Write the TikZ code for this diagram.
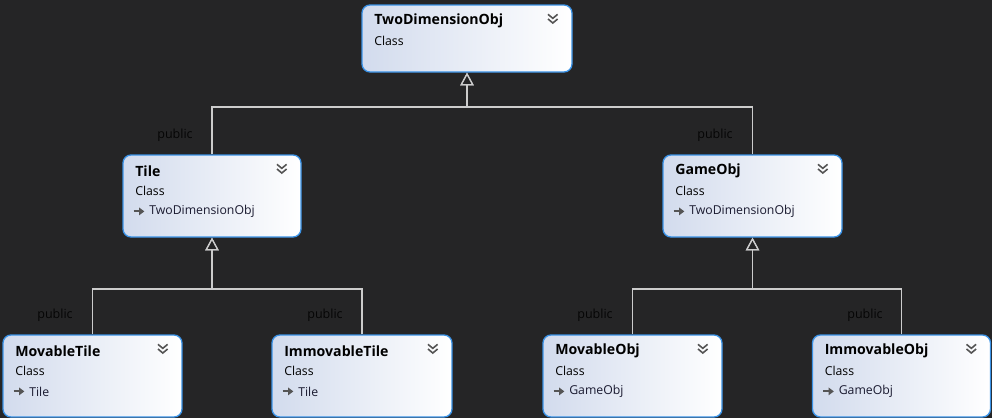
\documentclass[tikz,border=0pt]{standalone}
\usepackage{fontspec}
\setmainfont{Open Sans}
\usetikzlibrary{arrows.meta}
\definecolor{bgc}{HTML}{252526}
\definecolor{boxl}{HTML}{D2DBED}
\definecolor{boxr}{HTML}{FFFFFF}
\definecolor{boxb}{HTML}{3A92E6}
\definecolor{linec}{HTML}{CCCCCC}
\definecolor{iconc}{HTML}{555555}
\definecolor{pubc}{HTML}{050505}
\definecolor{partxt}{HTML}{1A1A30}
\tikzset{
  umlbox/.style={draw=boxb, line width=1pt, rounded corners=6pt, left color=boxl, right color=boxr, shading angle=90, inner sep=0pt},
  titletxt/.style={anchor=west, inner sep=0pt, font=\fontsize{10.6}{12}\selectfont\bfseries, text=black},
  subtxt/.style={anchor=west, inner sep=0pt, font=\fontsize{9.2}{10}\selectfont, text=black},
  partxtst/.style={subtxt, text=partxt},
  pubtxt/.style={inner sep=0pt, font=\fontsize{9.4}{10}\selectfont, text=pubc},
  conn/.style={draw=linec, line width=0.9pt},
  inh/.style={conn, -{Triangle[open, width=10pt, length=9.5pt, line width=0.9pt]}},
  chev/.style={draw=iconc, line width=1.2pt},
}
% #1 name, #2 cx, #3 cy, #4 w, #5 h, #6 title, #7 parent (empty for none)
\newcommand{\umlclass}[7]{%
  \node[umlbox, minimum width=#4*0.75pt, minimum height=#5*0.75pt] (#1) at (#2,#3) {};
  \node[titletxt] (#1-t) at ([xshift=9.5pt, yshift=-12.5pt]#1.north west) {#6};
  \node[subtxt] (#1-c) at ([xshift=9.5pt, yshift=-27.5pt]#1.north west) {Class};
  \draw[chev] ([xshift=-18.5pt, yshift=-7.5pt]#1.north east) -- ++(3.6pt,-3pt) -- ++(3.6pt,3pt);
  \draw[chev] ([xshift=-18.5pt, yshift=-11pt]#1.north east) -- ++(3.6pt,-3pt) -- ++(3.6pt,3pt);
  \ifx\relax#7\relax\else
    \draw[iconc, line width=1.4pt] ([xshift=8.5pt, yshift=-42.8pt]#1.north west) -- ++(5pt,0);
    \fill[iconc] ([xshift=12.5pt, yshift=-39.8pt]#1.north west) -- ++(4pt,-3pt) -- ++(-4pt,-3pt) -- cycle;
    \node[partxtst] (#1-p) at ([xshift=20pt, yshift=-42.8pt]#1.north west) {#7};
  \fi
}
\begin{document}
\begin{tikzpicture}[x=0.75pt, y=-0.75pt]
\fill[bgc] (0,0) rectangle (992,418);
\useasboundingbox (0,0) rectangle (992,418);
\begin{scope}
\clip (0,0) rectangle (992,418);
\umlclass{two}{467}{38.5}{210}{67}{TwoDimensionObj}{}
\umlclass{tile}{212}{196}{178}{82}{Tile}{TwoDimensionObj}
\umlclass{game}{752.5}{196}{179}{82}{GameObj}{TwoDimensionObj}
\umlclass{mt}{92.5}{376}{179}{82}{MovableTile}{Tile}
\umlclass{it}{362}{376}{180}{82}{ImmovableTile}{Tile}
\umlclass{mo}{632.5}{376}{179}{82}{MovableObj}{GameObj}
\umlclass{io}{901.5}{376}{178}{82}{ImmovableObj}{GameObj}
\end{scope}
% connectors
\coordinate (j0) at (467,107);
\coordinate (j1) at (212,289);
\coordinate (j2) at (752.5,289);
\draw[inh] (tile.north) |- (j0) -- (two.south);
\draw[inh] (game.north) |- (j0) -- (two.south);
\draw[inh] (mt.north) |- (j1) -- (tile.south);
\draw[inh] (it.north) |- (j1) -- (tile.south);
\draw[inh] (mo.north) |- (j2) -- (game.south);
\draw[inh] (io.north) |- (j2) -- (game.south);
% labels
\node[pubtxt] (p1) at (175,135) {public};
\node[pubtxt] (p2) at (715,135) {public};
\node[pubtxt] (p3) at (55,315) {public};
\node[pubtxt] (p4) at (325,315) {public};
\node[pubtxt] (p5) at (595,315) {public};
\node[pubtxt] (p6) at (865,315) {public};
\end{tikzpicture}
\end{document}
